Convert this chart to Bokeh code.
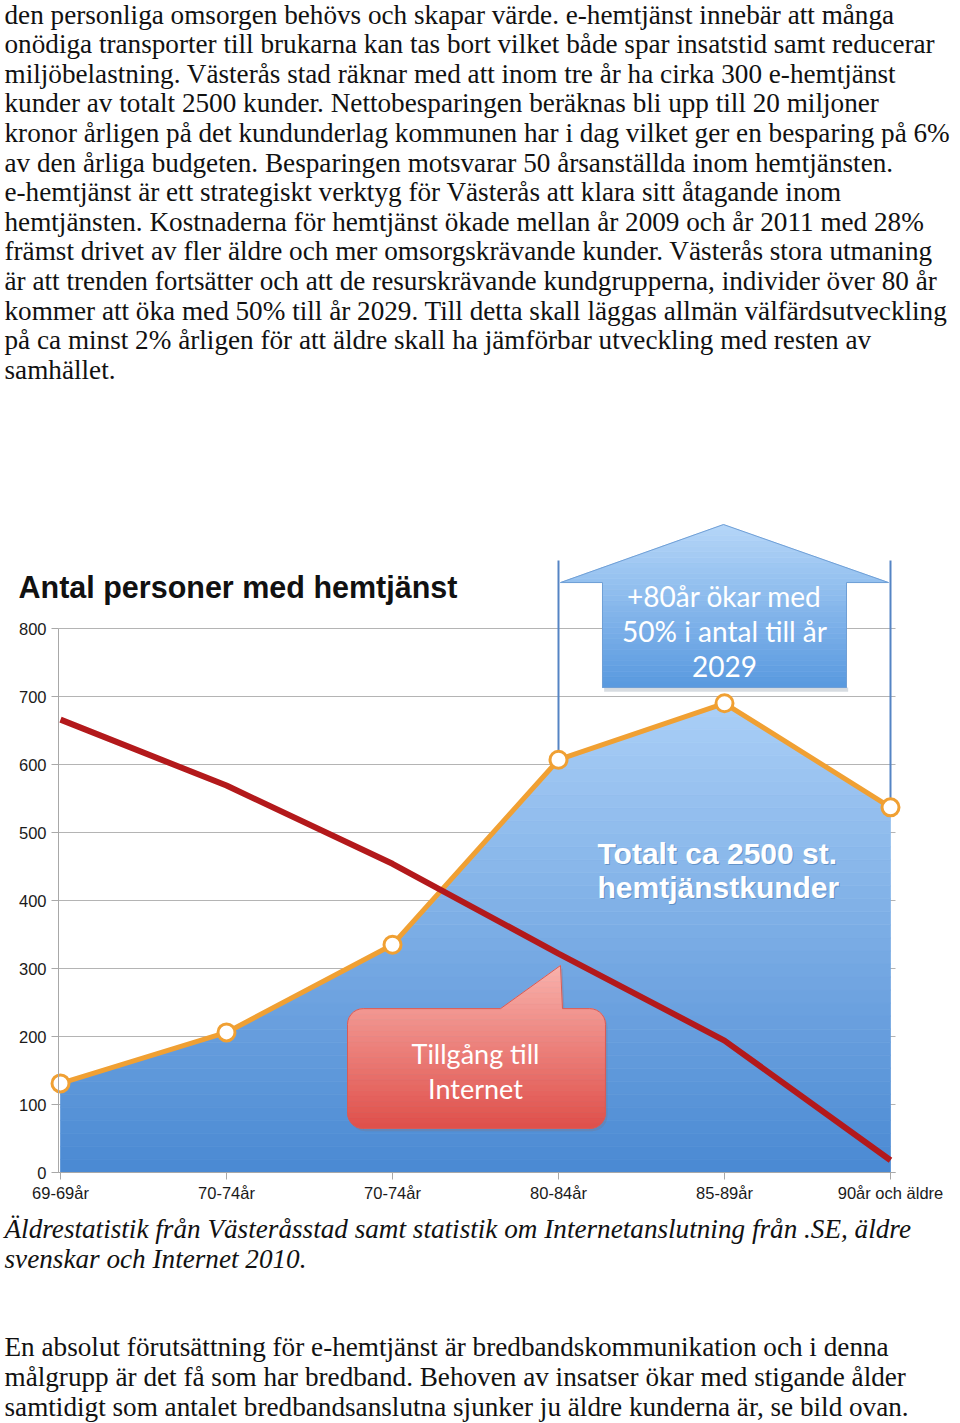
import numpy as np
from bokeh.plotting import figure
from bokeh.models import Range1d, FixedTicker, Label, ColumnDataSource
from bokeh.layouts import column
from bokeh.embed import file_html
from bokeh.resources import INLINE
from bokeh.core.properties import value

# ---------------- data ----------------
categories = ["69-69år", "70-74år", "70-74år", "80-84år", "85-89år", "90år och äldre"]
hemtjanst = [131, 206, 335, 607, 690, 537]      # orange line / blue area
internet = [666, 569, 454, 322, 194, 18]        # red line (tillgång till internet)
y_ticks = [0, 100, 200, 300, 400, 500, 600, 700, 800]
cat_x = list(range(len(categories)))

top_lines = [
    "den personliga omsorgen behövs och skapar värde. e-hemtjänst innebär att många",
    "onödiga transporter till brukarna kan tas bort vilket både spar insatstid samt reducerar",
    "miljöbelastning. Västerås stad räknar med att inom tre år ha cirka 300 e-hemtjänst",
    "kunder av totalt 2500 kunder. Nettobesparingen beräknas bli upp till 20 miljoner",
    "kronor årligen på det kundunderlag kommunen har i dag vilket ger en besparing på 6%",
    "av den årliga budgeten. Besparingen motsvarar 50 årsanställda inom hemtjänsten.",
    "e-hemtjänst är ett strategiskt verktyg för Västerås att klara sitt åtagande inom",
    "hemtjänsten. Kostnaderna för hemtjänst ökade mellan år 2009 och år 2011 med 28%",
    "främst drivet av fler äldre och mer omsorgskrävande kunder. Västerås stora utmaning",
    "är att trenden fortsätter och att de resurskrävande kundgrupperna, individer över 80 år",
    "kommer att öka med 50% till år 2029.  Till detta skall läggas allmän välfärdsutveckling",
    "på ca minst 2% årligen för att äldre skall ha jämförbar utveckling med resten av",
    "samhället.",
]
caption_lines = [
    "Äldrestatistik från Västeråsstad samt statistik om Internetanslutning från .SE, äldre",
    "svenskar och Internet 2010.",
]
bottom_lines = [
    "En absolut förutsättning för e-hemtjänst är bredbandskommunikation och i denna",
    "målgrupp är det få som har bredband. Behoven av insatser ökar med stigande ålder",
    "samtidigt som antalet bredbandsanslutna sjunker ju äldre kunderna är, se bild ovan.",
]

W = 960
BODY_FONT = "Liberation Serif"
BODY_SIZE = "27.2px"


# ---------------- helpers ----------------
def hex2rgb(h):
    return tuple(int(h[i:i + 2], 16) for i in (1, 3, 5))


def lerp(c1, c2, t):
    a, b = hex2rgb(c1), hex2rgb(c2)
    return "#%02x%02x%02x" % tuple(int(round(a[i] + (b[i] - a[i]) * t)) for i in range(3))


def clip_edge(pts, keep, yv):
    out = []
    n = len(pts)
    for i in range(n):
        cur, prev = pts[i], pts[i - 1]
        def inter(a, b):
            t = (yv - a[1]) / (b[1] - a[1])
            return (a[0] + t * (b[0] - a[0]), yv)
        if keep(cur):
            if not keep(prev):
                out.append(inter(prev, cur))
            out.append(cur)
        elif keep(prev):
            out.append(inter(prev, cur))
    return out


def clip_band(poly, lo, hi):
    pts = clip_edge(poly, lambda p: p[1] >= lo, lo)
    if pts:
        pts = clip_edge(pts, lambda p: p[1] <= hi, hi)
    return pts


def gradient_fill(fig, poly, c_lo, c_hi, n=30):
    ys_all = [p[1] for p in poly]
    lo, hi = min(ys_all), max(ys_all)
    xs, ys, cs = [], [], []
    for k in range(n):
        a = lo + (hi - lo) * k / n
        b = lo + (hi - lo) * (k + 1) / n
        pts = clip_band(poly, a, b)
        if len(pts) >= 3:
            xs.append([p[0] for p in pts])
            ys.append([p[1] for p in pts])
            cs.append(lerp(c_lo, c_hi, (k + 0.5) / n))
    fig.patches(xs=xs, ys=ys, fill_color=cs, line_color=cs, line_width=0.7)


def text_fig(h):
    f = figure(width=W, height=h, x_range=Range1d(0, W), y_range=Range1d(h, 0),
               output_backend="svg", toolbar_location=None, min_border=0,
               x_axis_location=None, y_axis_location=None)
    f.grid.visible = False
    f.outline_line_color = None
    return f


# ---------------- top text ----------------
H1 = 395
top = text_fig(H1)
top_src = ColumnDataSource(dict(x=[4] * len(top_lines),
                                y=[14.0 + 29.6 * i for i in range(len(top_lines))],
                                t=top_lines))
top.text(x="x", y="y", text="t", source=top_src, text_font=value(BODY_FONT),
         text_font_size=BODY_SIZE, text_baseline="alphabetic", text_align="left",
         text_color="#111111")

# ---------------- chart ----------------
H2 = 817
px_cat = 166.0                     # pixels between categories
px_unit = 0.68                     # pixels per person
x0_px = 60                         # pixel of first category from the figure's left
zero_px = 777                      # pixel of value 0 from the figure's top
grid_end_px = 895
x_start = -x0_px / px_cat
x_end = (W - x0_px) / px_cat
grid_end = (grid_end_px - x0_px) / px_cat
axis_x = -2 / px_cat

p = figure(width=W, height=H2,
           x_range=Range1d(x_start, x_end),
           y_range=Range1d(-(H2 - zero_px) / px_unit, zero_px / px_unit),
           output_backend="svg", toolbar_location=None,
           min_border_left=0, min_border_right=0, min_border_top=0, min_border_bottom=0)
p.outline_line_color = None
p.background_fill_color = "white"

p.yaxis.fixed_location = axis_x
p.yaxis.ticker = FixedTicker(ticks=y_ticks)
p.yaxis.bounds = (0, max(y_ticks))
p.xaxis.fixed_location = 0
p.xaxis.ticker = FixedTicker(ticks=cat_x)
p.xaxis.bounds = (axis_x, grid_end)
p.xaxis.major_label_overrides = {i: c for i, c in enumerate(categories)}
p.grid.visible = False
for ax in (p.xaxis, p.yaxis):
    ax.axis_line_color = "#a8a8a8"
    ax.major_tick_line_color = "#a8a8a8"
    ax.minor_tick_line_color = None
    ax.major_tick_in = 0
    ax.major_tick_out = 7
    ax.major_label_text_font = "Liberation Sans"
    ax.major_label_text_font_size = "16.5px"
    ax.major_label_text_color = "#1a1a1a"
p.xaxis.major_label_standoff = 4
p.yaxis.major_label_standoff = 5

# horizontal gridlines at the y ticks
p.segment(x0=[axis_x] * len(y_ticks), y0=y_ticks, x1=[grid_end] * len(y_ticks), y1=y_ticks,
          line_color="#b4b4b4", line_width=1)

# bracket lines of the arrow callout
p.segment(x0=[cat_x[3], cat_x[5]], y0=[hemtjanst[3], hemtjanst[5]],
          x1=[cat_x[3], cat_x[5]], y1=[900, 900], line_color="#5584c4", line_width=2)

# gradient area under the hemtjänst line
area_poly = [(cat_x[0], 0)] + list(zip(cat_x, hemtjanst)) + [(cat_x[-1], 0)]
gradient_fill(p, area_poly, "#4a89d3", "#aacff6", n=36)

# arrow callout (+80år)
arrow_poly = [(3.012, 867.6), (3.994, 952.9), (4.988, 867.6), (4.735, 867.6),
              (4.735, 713.2), (3.265, 713.2), (3.265, 867.6)]
p.patch([3.275, 4.745, 4.745, 3.275], [713.2, 713.2, 707, 707], fill_color="#7a8a9a",
        fill_alpha=0.3, line_color=None)
gradient_fill(p, arrow_poly, "#5899df", "#b6d6f8", n=30)
p.patch([q[0] for q in arrow_poly], [q[1] for q in arrow_poly], fill_color=None,
        line_color="#6f9fd6", line_width=1)

# speech bubble (Tillgång till Internet)
bx0, bx1, by0, by1 = 1.729, 3.283, 64.7, 241.0
rx, ry = 0.095, 23.0


def arc(cx, cy, a0, a1, n=8):
    ang = np.radians(np.linspace(a0, a1, n))
    return list(zip(cx + rx * np.cos(ang), cy + ry * np.sin(ang)))


bubble = []
bubble += arc(bx0 + rx, by1 - ry, 180, 90)
bubble += [(2.651, by1), (3.012, 304.4), (3.024, by1)]
bubble += arc(bx1 - rx, by1 - ry, 90, 0)
bubble += arc(bx1 - rx, by0 + ry, 0, -90)
bubble += arc(bx0 + rx, by0 + ry, -90, -180)
p.patch([q[0] + 0.012 for q in bubble], [q[1] - 4 for q in bubble], fill_color="#8a6a6a",
        fill_alpha=0.25, line_color=None)
gradient_fill(p, bubble, "#df4f4a", "#f9b2ac", n=30)
p.patch([q[0] for q in bubble], [q[1] for q in bubble], fill_color=None,
        line_color="#d65c57", line_width=1)

# lines
p.line(cat_x, hemtjanst, line_color="#f0a033", line_width=5)
p.scatter(cat_x, hemtjanst, size=17, fill_color="white", line_color="#f0a033", line_width=3)
p.line(cat_x, internet, line_color="#b3191b", line_width=6)

# texts
p.add_layout(Label(x=-42 / px_cat, y=860.3, text="Antal personer med hemtjänst",
                   text_font="Liberation Sans", text_font_style="bold",
                   text_font_size="30.5px", text_color="#111111", text_baseline="middle"))
for ty, tt in zip([848.5, 797.0, 744.0], ["+80år ökar med", "50% i antal till år", "2029"]):
    p.add_layout(Label(x=4.0, y=ty, text=tt, text_font="Lato", text_font_size="28px",
                       text_color="white", text_align="center", text_baseline="middle"))
for ty, tt in zip([469.0, 419.0], ["Totalt ca 2500 st.", "hemtjänstkunder"]):
    p.add_layout(Label(x=3.235, y=ty, text=tt, text_font="Liberation Sans",
                       text_font_style="bold", text_font_size="30px", text_color="#3d6fa8",
                       text_alpha=0.5, text_baseline="middle", x_offset=1, y_offset=-1))
    p.add_layout(Label(x=3.235, y=ty, text=tt, text_font="Liberation Sans",
                       text_font_style="bold", text_font_size="30px", text_color="white",
                       text_baseline="middle"))
for ty, tt in zip([175.0, 123.5], ["Tillgång till", "Internet"]):
    p.add_layout(Label(x=2.5, y=ty, text=tt, text_font="Lato", text_font_size="27px",
                       text_color="white", text_align="center", text_baseline="middle"))

# ---------------- bottom text ----------------
H3 = 1423 - H1 - H2
bot = text_fig(H3)
cap_src = ColumnDataSource(dict(x=[4, 4], y=[16.0, 46.0], t=caption_lines))
bot.text(x="x", y="y", text="t", source=cap_src, text_font=value(BODY_FONT),
         text_font_size=BODY_SIZE, text_font_style="italic", text_baseline="alphabetic",
         text_color="#111111")
bot_src = ColumnDataSource(dict(x=[4, 4, 4], y=[134.5, 164.5, 194.0], t=bottom_lines))
bot.text(x="x", y="y", text="t", source=bot_src, text_font=value(BODY_FONT),
         text_font_size=BODY_SIZE, text_baseline="alphabetic", text_color="#111111")

layout = column(top, p, bot, spacing=0)
open("out.html", "w").write(file_html(layout, INLINE))
